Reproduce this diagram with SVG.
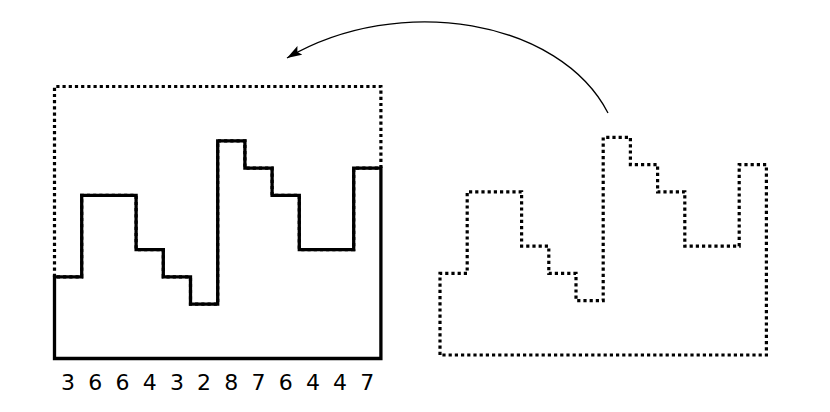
<svg xmlns="http://www.w3.org/2000/svg" width="830" height="412" viewBox="0 0 830 412">
  <defs>
    <style>
      .dotted { fill: none; stroke: #000; stroke-width: 3.2; stroke-dasharray: 3.2 3; }
      .solid { fill: none; stroke: #000; stroke-width: 3.3; stroke-linejoin: miter; }
      .num { font-family: "DejaVu Sans", sans-serif; font-size: 22px; text-anchor: middle; fill: #000; }
      .conn { fill: none; stroke: #000; stroke-width: 1.3; }
    </style>
    <marker id="arrow" markerUnits="userSpaceOnUse" markerWidth="18" markerHeight="12" refX="15" refY="5" orient="auto">
      <path d="M0,0 L15,5 L0,10 L3,5 Z" fill="#000"/>
    </marker>
  </defs>
  <rect width="830" height="412" fill="#fff"/>

  <g id="left-histogram">
    <path class="dotted" d="M54.5,276.9 V86.5 H380.9 V168.1 H353.7 V249.7 H299.3 V195.3 H272.1 V168.1 H244.9 V140.9 H217.7 V304.1 H190.5 V276.9 H163.3 V249.7 H136.1 V195.3 H81.7 V276.9 Z"/>
    <path class="solid" d="M54.5,358.5 V276.9 H81.7 V195.3 H136.1 V249.7 H163.3 V276.9 H190.5 V304.1 H217.7 V140.9 H244.9 V168.1 H272.1 V195.3 H299.3 V249.7 H353.7 V168.1 H380.9 V358.5 Z"/>
  </g>

  <g id="labels">
    <text class="num" x="68.1" y="389.5">3</text>
    <text class="num" x="95.3" y="389.5">6</text>
    <text class="num" x="122.5" y="389.5">6</text>
    <text class="num" x="149.7" y="389.5">4</text>
    <text class="num" x="176.9" y="389.5">3</text>
    <text class="num" x="204.1" y="389.5">2</text>
    <text class="num" x="231.3" y="389.5">8</text>
    <text class="num" x="258.5" y="389.5">7</text>
    <text class="num" x="285.7" y="389.5">6</text>
    <text class="num" x="312.9" y="389.5">4</text>
    <text class="num" x="340.1" y="389.5">4</text>
    <text class="num" x="367.3" y="389.5">7</text>
  </g>

  <g id="right-shape" transform="translate(385.5,-3.5)">
    <path class="dotted" d="M54.5,358.5 V276.9 H81.7 V195.3 H136.1 V249.7 H163.3 V276.9 H190.5 V304.1 H217.7 V140.9 H244.9 V168.1 H272.1 V195.3 H299.3 V249.7 H353.7 V168.1 H380.9 V358.5 Z"/>
  </g>

  <g id="connectors">
    <path class="conn" d="M608,113 C560,20 400,-8 287,58" marker-end="url(#arrow)"/>
  </g>
</svg>
